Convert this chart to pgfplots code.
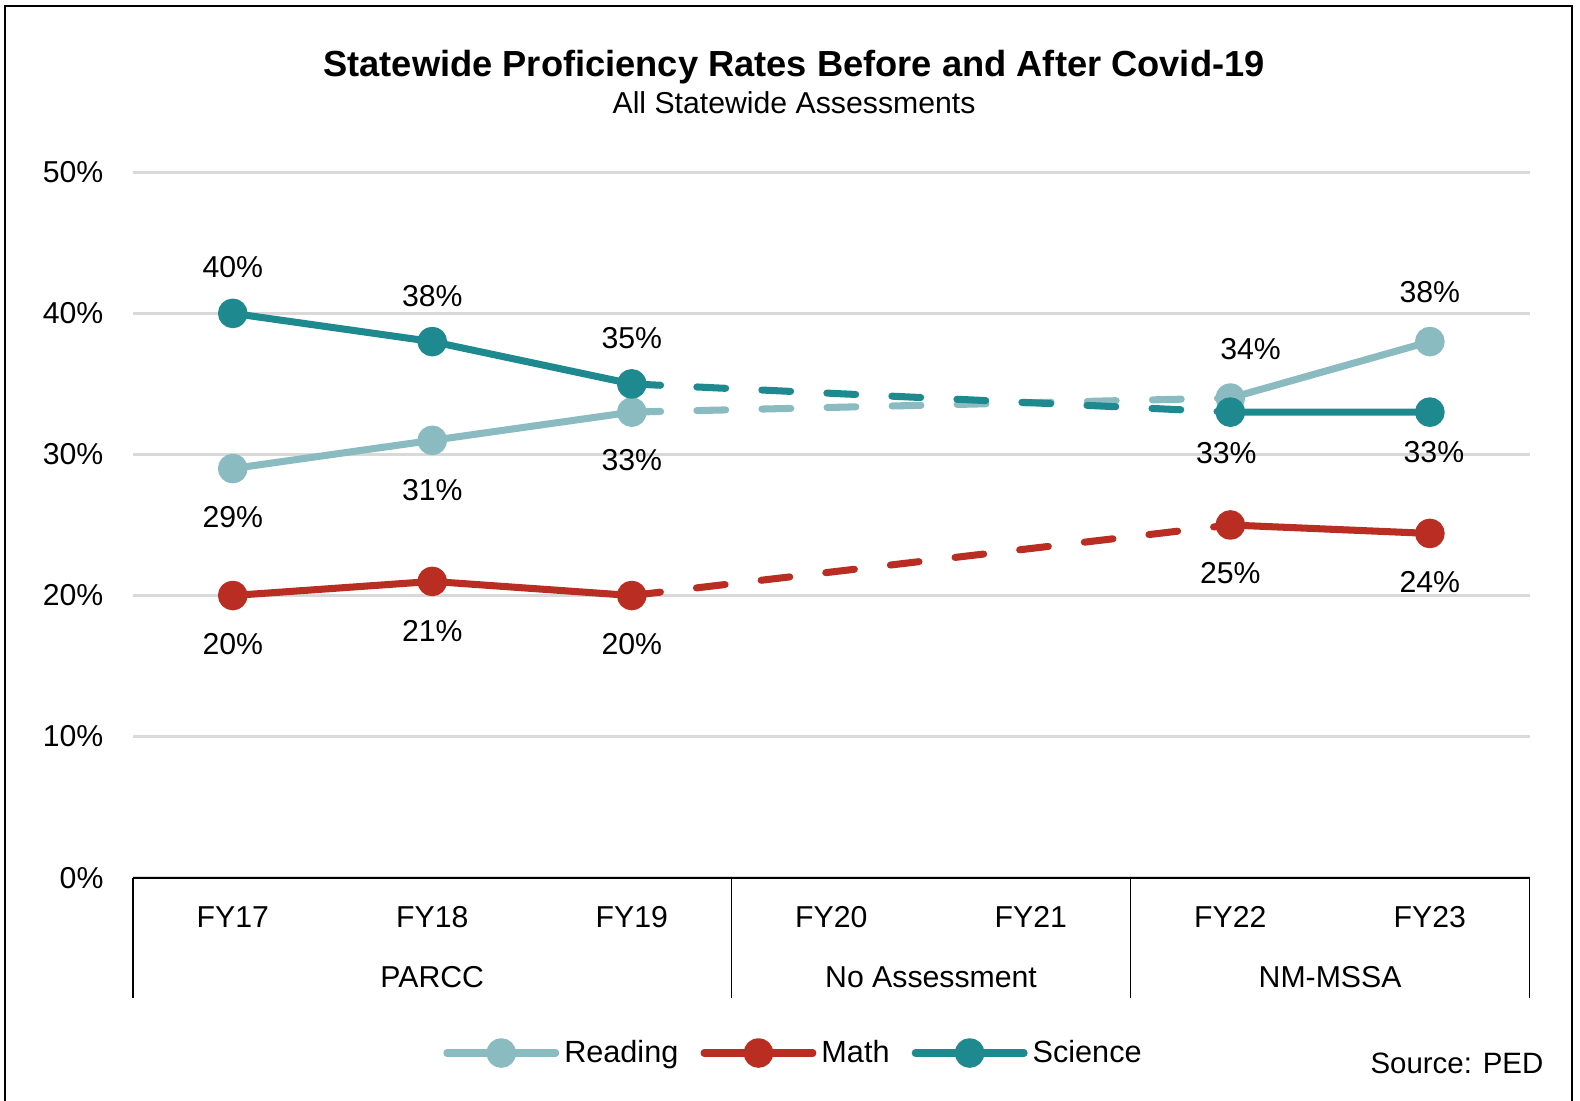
\documentclass[border=0pt]{standalone}
\usepackage{pgfplots}
\pgfplotsset{compat=1.18}
\usepackage{fontspec}
\setmainfont{Liberation Sans}
\definecolor{cRead}{HTML}{8ABBC1}
\definecolor{cMath}{HTML}{B92D22}
\definecolor{cSci}{HTML}{1E8A8F}
\definecolor{cGrid}{HTML}{D9D9D9}
\begin{document}
\begin{tikzpicture}[x=1pt,y=1pt]
\useasboundingbox (0,0) rectangle (784,546);
\draw[line width=1.3pt, black] (2.5,-2) -- (2.5,543) -- (780,543) -- (780,-2);
\node[anchor=base, font=\fontsize{18}{20}\selectfont\bfseries] at (394,508) {Statewide Proficiency Rates Before and After Covid-19};
\node[anchor=base, font=\fontsize{15}{17}\selectfont] at (394,489.5) {All Statewide Assessments};
\node[anchor=base east, inner sep=0pt, font=\fontsize{14.6}{17}\selectfont] at (766,13.5) {Source: PED};
\begin{axis}[
  at={(66pt,110.5pt)}, anchor=south west,
  scale only axis, width=693pt, height=350pt,
  xmin=-0.5, xmax=6.5, ymin=0, ymax=50,
  axis line style={draw=none},
  clip=false,
  ytick={0,10,20,30,40,50},
  yticklabels={0\%,10\%,20\%,30\%,40\%,50\%},
  ymajorgrids, grid style={cGrid, line width=1.5pt},
  major tick length=0pt,
  xtick={0,1,2,3,4,5,6},
  xticklabels={FY17,FY18,FY19,FY20,FY21,FY22,FY23},
  tick label style={font=\fontsize{15}{17}\selectfont},
  yticklabel style={anchor=east, inner sep=0pt, xshift=-14.5pt},
  xticklabel style={anchor=center, inner sep=0pt, yshift=-19.5pt},
  unbounded coords=jump,
  legend columns=3,
  legend style={at={(0.4722,-0.2486)}, anchor=center, draw=none, fill=none,
    font=\fontsize{15.2}{17}\selectfont, inner sep=0pt,
    /tikz/every even column/.append style={column sep=11pt},
    /tikz/every odd column/.append style={column sep=2.5pt},
    nodes={inner sep=0pt}},
  legend image code/.code={\draw[mark repeat=2, mark phase=2, #1] plot coordinates {(0pt,0pt) (27pt,0pt) (54pt,0pt)};},
  every axis plot/.append style={line width=3.5pt, line cap=round, line join=round},
]
% dashed connectors (no assessment years)
\addplot[cRead, forget plot, dash pattern=on 14.3pt off 18pt] coordinates {(2,33) (5,34)};
\addplot[cMath, forget plot, dash pattern=on 14.3pt off 18pt] coordinates {(2,20) (5,25)};
\addplot[cSci, forget plot, dash pattern=on 14.3pt off 18pt] coordinates {(2,35) (5,33)};
% solid series
\addplot[cRead, mark=*, mark size=5.6pt, mark options={solid, fill=cRead, draw=none}]
  coordinates {(0,29) (1,31) (2,33) (3,nan) (5,34) (6,38)};
\addlegendentry{Reading}
\addplot[cMath, mark=*, mark size=5.6pt, mark options={solid, fill=cMath, draw=none}]
  coordinates {(0,20) (1,21) (2,20) (3,nan) (5,25) (6,24.4)};
\addlegendentry{Math}
\addplot[cSci, mark=*, mark size=5.6pt, mark options={solid, fill=cSci, draw=none}]
  coordinates {(0,40) (1,38) (2,35) (3,nan) (5,33) (6,33)};
\addlegendentry{Science}
% bottom axis line and group separators
\draw[black, line width=1pt] (axis cs:-0.5,0) -- (axis cs:6.5,0);
\draw[black, line width=0.8pt] (axis cs:-0.5,0) -- ++(0pt,-59.5pt);
\draw[black, line width=0.8pt] (axis cs:2.5,0) -- ++(0pt,-59.5pt);
\draw[black, line width=0.8pt] (axis cs:4.5,0) -- ++(0pt,-59.5pt);
\draw[black, line width=0.8pt] (axis cs:6.5,0) -- ++(0pt,-59.5pt);
\node[font=\fontsize{15}{17}\selectfont] at ([yshift=-49.5pt]axis cs:1,0) {PARCC};
\node[font=\fontsize{15}{17}\selectfont] at ([yshift=-49.5pt]axis cs:3.5,0) {No Assessment};
\node[font=\fontsize{15}{17}\selectfont] at ([yshift=-49.5pt]axis cs:5.5,0) {NM-MSSA};
% data labels
\begin{scope}[every node/.style={font=\fontsize{15}{17}\selectfont, inner sep=0pt, anchor=center}]
\node at ([yshift=23pt]axis cs:0,40) {40\%};
\node at ([yshift=22.5pt]axis cs:1,38) {38\%};
\node at ([yshift=22.5pt]axis cs:2,35) {35\%};
\node at ([yshift=-24pt]axis cs:0,29) {29\%};
\node at ([yshift=-24.5pt]axis cs:1,31) {31\%};
\node at ([yshift=-24pt]axis cs:2,33) {33\%};
\node at ([xshift=10pt,yshift=24.5pt]axis cs:5,34) {34\%};
\node at ([yshift=24.5pt]axis cs:6,38) {38\%};
\node at ([xshift=-2pt,yshift=-20.5pt]axis cs:5,33) {33\%};
\node at ([xshift=2pt,yshift=-20pt]axis cs:6,33) {33\%};
\node at ([yshift=-24pt]axis cs:0,20) {20\%};
\node at ([yshift=-24.5pt]axis cs:1,21) {21\%};
\node at ([yshift=-24pt]axis cs:2,20) {20\%};
\node at ([yshift=-24pt]axis cs:5,25) {25\%};
\node at ([yshift=-24pt]axis cs:6,24.4) {24\%};
\end{scope}
\end{axis}
\end{tikzpicture}
\end{document}
